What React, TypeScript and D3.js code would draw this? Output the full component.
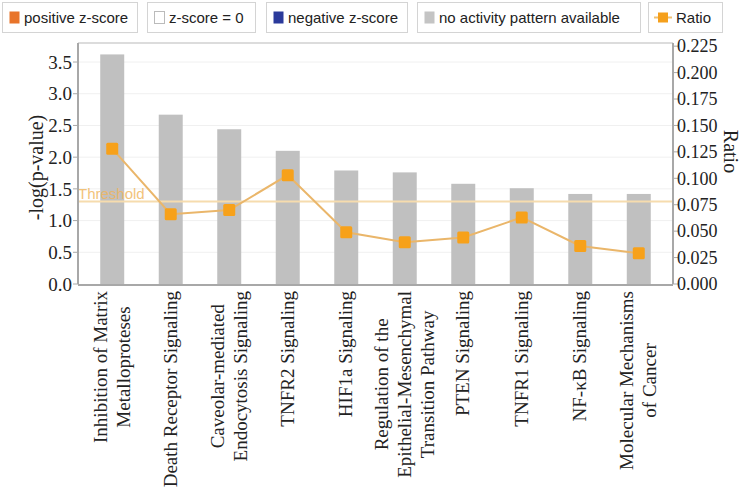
import React, { useEffect, useRef } from "react";
import * as d3 from "d3";

const categories = [
  "Inhibition of Matrix\nMetalloproteses",
  "Death Receptor Signaling",
  "Caveolar-mediated\nEndocytosis Signaling",
  "TNFR2 Signaling",
  "HIF1a Signaling",
  "Regulation of the\nEpithelial-Mesenchymal\nTransition Pathway",
  "PTEN Signaling",
  "TNFR1 Signaling",
  "NF-κB Signaling",
  "Molecular Mechanisms\nof Cancer",
];
const logP = [3.62, 2.67, 2.44, 2.1, 1.79, 1.76, 1.58, 1.51, 1.42, 1.42];
const ratio = [0.128, 0.066, 0.07, 0.103, 0.049, 0.0395, 0.044, 0.063, 0.036, 0.029];
const leftTicks = [0, 0.5, 1, 1.5, 2, 2.5, 3, 3.5];
const rightTicks = [0, 0.025, 0.05, 0.075, 0.1, 0.125, 0.15, 0.175, 0.2, 0.225];
const threshold = 1.3;

const legendLabels = [
  "positive z-score",
  "z-score = 0",
  "negative z-score",
  "no activity pattern available",
  "Ratio",
];
const legendColors = ["#e8742a", "#ffffff", "#2b3a9b", "#c4c4c4", "#f5a01c"];

const W = 742;
const H = 488;
const serif = "'Liberation Serif', 'Times New Roman', serif";
const sans = "'Liberation Sans', Arial, sans-serif";

const App = () => {
  const svgRef = useRef<SVGSVGElement>(null);

  useEffect(() => {
    document.body.style.margin = "0";
    const svg = d3.select(svgRef.current);
    svg.selectAll("*").remove();

    const left = 78;
    const right = 673;
    const top = 43;
    const bottom = 284;

    const x = d3
      .scaleBand<number>()
      .domain(d3.range(categories.length))
      .range([left, right])
      .paddingInner(0.59)
      .paddingOuter(0.38);
    const y = d3.scaleLinear().domain([0, 3.8]).range([bottom, top]);
    const y2 = d3.scaleLinear().domain([0, 0.228]).range([bottom, top]);

    // legend
    const boxes = [
      [2, 137],
      [147, 255],
      [266, 407],
      [417, 640],
      [648, 722],
    ];
    const lg = svg.append("g");
    legendLabels.forEach((label, i) => {
      const [x0, x1] = boxes[i];
      const g = lg.append("g");
      g.append("rect")
        .attr("x", x0 + 0.5)
        .attr("y", 2.5)
        .attr("width", x1 - x0)
        .attr("height", 30)
        .attr("fill", "#fff")
        .attr("stroke", "#d4d4d4");
      if (i < 4) {
        g.append("rect")
          .attr("x", x0 + 7.5)
          .attr("y", 11.5)
          .attr("width", 10)
          .attr("height", 12)
          .attr("fill", legendColors[i])
          .attr("stroke", i === 1 ? "#bbb" : "none");
      } else {
        g.append("line")
          .attr("x1", x0 + 6)
          .attr("x2", x0 + 24)
          .attr("y1", 17.5)
          .attr("y2", 17.5)
          .attr("stroke", "#f0c070")
          .attr("stroke-width", 2);
        g.append("rect")
          .attr("x", x0 + 10)
          .attr("y", 12.5)
          .attr("width", 10)
          .attr("height", 10)
          .attr("fill", legendColors[i]);
      }
      g.append("text")
        .attr("x", x0 + (i === 4 ? 28 : 22))
        .attr("y", 18)
        .attr("dy", "0.35em")
        .attr("font-family", sans)
        .attr("font-size", 15)
        .attr("fill", "#222")
        .text(label);
    });

    // top frame line
    svg
      .append("line")
      .attr("x1", left)
      .attr("x2", right)
      .attr("y1", top)
      .attr("y2", top)
      .attr("stroke", "#d0d0d0")
      .attr("stroke-width", 1.5);

    // grid
    svg
      .append("g")
      .selectAll("line")
      .data(leftTicks.slice(1))
      .join("line")
      .attr("x1", left)
      .attr("x2", right)
      .attr("y1", (d) => y(d))
      .attr("y2", (d) => y(d))
      .attr("stroke", "#f0f0f0");

    // bars
    svg
      .append("g")
      .selectAll("rect")
      .data(logP)
      .join("rect")
      .attr("x", (_, i) => x(i)!)
      .attr("width", x.bandwidth())
      .attr("y", (d) => y(d))
      .attr("height", (d) => bottom - y(d))
      .attr("fill", "#c0c0c0");

    // threshold
    svg
      .append("line")
      .attr("x1", left)
      .attr("x2", right)
      .attr("y1", y(threshold))
      .attr("y2", y(threshold))
      .attr("stroke", "#f6dcae")
      .attr("stroke-width", 2);
    svg
      .append("text")
      .attr("x", left)
      .attr("y", y(threshold) - 8)
      .attr("dy", "0.35em")
      .attr("font-family", sans)
      .attr("font-size", 15)
      .attr("fill", "#f0b55a")
      .attr("opacity", 0.8)
      .text("Threshold");

    // ratio line
    const cx = (i: number) => x(i)! + x.bandwidth() / 2;
    const line = d3
      .line<number>()
      .x((_, i) => cx(i))
      .y((d) => y2(d));
    svg
      .append("path")
      .attr("d", line(ratio))
      .attr("fill", "none")
      .attr("stroke", "#eab66a")
      .attr("stroke-width", 2);
    svg
      .append("g")
      .selectAll("rect")
      .data(ratio)
      .join("rect")
      .attr("x", (_, i) => cx(i) - 6)
      .attr("y", (d) => y2(d) - 6)
      .attr("width", 12)
      .attr("height", 12)
      .attr("rx", 1.5)
      .attr("fill", "#f7a11a");

    // axes lines
    const axisColor = "#a8a8a8";
    svg
      .append("line")
      .attr("x1", left)
      .attr("x2", left)
      .attr("y1", top)
      .attr("y2", bottom)
      .attr("stroke", axisColor)
      .attr("stroke-width", 2);
    svg
      .append("line")
      .attr("x1", right)
      .attr("x2", right)
      .attr("y1", top)
      .attr("y2", bottom)
      .attr("stroke", axisColor)
      .attr("stroke-width", 2);
    svg
      .append("line")
      .attr("x1", left)
      .attr("x2", right)
      .attr("y1", bottom + 1)
      .attr("y2", bottom + 1)
      .attr("stroke", axisColor)
      .attr("stroke-width", 2);

    // left ticks
    const lt = svg
      .append("g")
      .selectAll("g")
      .data(leftTicks)
      .join("g")
      .attr("transform", (d) => `translate(${left},${y(d)})`);
    lt.append("line").attr("x1", -5).attr("x2", 0).attr("stroke", axisColor);
    lt.append("text")
      .attr("x", -6)
      .attr("dy", "0.35em")
      .attr("text-anchor", "end")
      .attr("font-family", serif)
      .attr("font-size", 19)
      .attr("fill", "#222")
      .text((d) => d3.format(".1f")(d));

    // right ticks
    const rt = svg
      .append("g")
      .selectAll("g")
      .data(rightTicks)
      .join("g")
      .attr("transform", (d) => `translate(${right},${y2(d)})`);
    rt.append("line").attr("x1", 0).attr("x2", 5).attr("stroke", axisColor);
    rt.append("text")
      .attr("x", 4)
      .attr("dy", "0.35em")
      .attr("font-family", serif)
      .attr("font-size", 18)
      .attr("fill", "#222")
      .text((d) => d3.format(".3f")(d));

    // axis titles
    svg
      .append("text")
      .attr("transform", `translate(43,${(top + bottom) / 2 + 4}) rotate(-90)`)
      .attr("text-anchor", "middle")
      .attr("font-family", serif)
      .attr("font-size", 20)
      .attr("fill", "#222")
      .text("-log(p-value)");
    svg
      .append("text")
      .attr("transform", `translate(724,${(top + bottom) / 2 - 12}) rotate(90)`)
      .attr("text-anchor", "middle")
      .attr("font-family", serif)
      .attr("font-size", 20)
      .attr("fill", "#222")
      .text("Ratio");

    // category labels
    const labelTop = 291;
    const lineH = 23;
    categories.forEach((cat, i) => {
      const lines = cat.split("\n");
      const t = svg
        .append("text")
        .attr("font-family", serif)
        .attr("font-size", 19)
        .attr("fill", "#222")
        .attr("text-anchor", "middle");
      lines.forEach((ln) => t.append("tspan").text(ln));
      const maxLen = d3.max(
        t.selectAll<SVGTSpanElement, unknown>("tspan").nodes(),
        (n) => n.getComputedTextLength()
      )!;
      const cyy = labelTop + maxLen / 2;
      const x0 = cx(i) - ((lines.length - 1) * lineH) / 2 + 6;
      t.selectAll<SVGTSpanElement, unknown>("tspan")
        .attr("x", 0)
        .attr("y", (_, j) => j * lineH);
      t.attr("transform", `translate(${x0},${cyy}) rotate(-90)`);
    });
  }, []);

  return <svg ref={svgRef} width={W} height={H} style={{ display: "block" }} />;
};

export default App;
